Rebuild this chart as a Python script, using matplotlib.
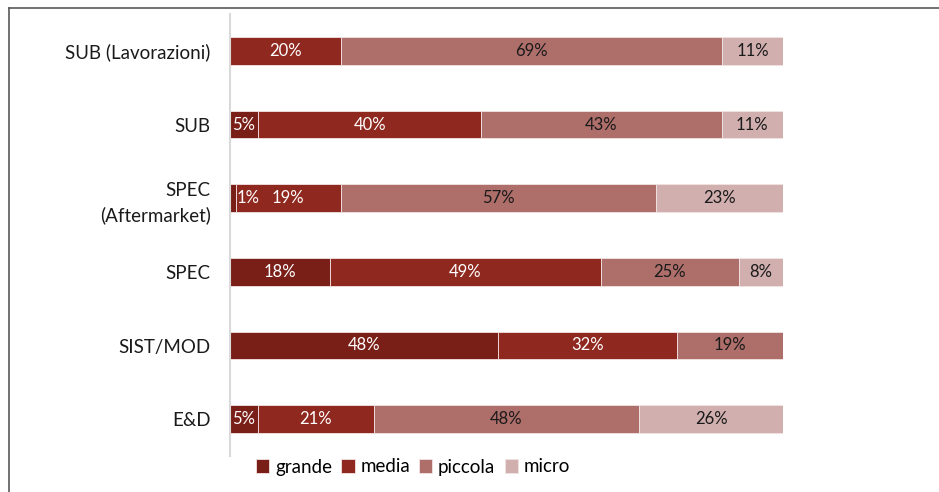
import matplotlib.pyplot as plt
from matplotlib.lines import Line2D
import numpy as np

plt.rcParams['font.family'] = ['Lato', 'DejaVu Sans']

# categories, top to bottom
categories = ['SUB (Lavorazioni)', 'SUB', 'SPEC\n(Aftermarket)', 'SPEC', 'SIST/MOD', 'E&D']
series = ['grande', 'media', 'piccola', 'micro']

grande = [0, 5, 1, 18, 48, 5]
media = [20, 40, 19, 49, 32, 21]
piccola = [69, 43, 57, 25, 19, 48]
micro = [11, 11, 23, 8, 0, 26]

colors = ['#7A1F17', '#8F281E', '#AE6E6A', '#D0AFAE']
text_colors = ['white', 'white', '#1a1a1a', '#1a1a1a']

data = np.array([grande, media, piccola, micro], dtype=float)
shares = data / data.sum(axis=0) * 100  # 100% stacked, like Excel

fig = plt.figure(figsize=(9.39, 4.92), dpi=100)
ax = fig.add_axes([230 / 939, 36 / 492, 553 / 939, 442 / 492])

y = np.arange(len(categories))[::-1]
left = np.zeros(len(categories))
for i, name in enumerate(series):
    ax.barh(y, shares[i], left=left, height=0.38, color=colors[i],
            edgecolor='#F2E4E4', linewidth=0.6, label=name)
    for yy, l, w, v in zip(y, left, shares[i], data[i]):
        if v <= 0:
            continue
        if w < 3:
            # too thin: label sits just right of the segment
            ax.text(l + w + 0.2, yy, f'{v:.0f}%', ha='left', va='center',
                    color=text_colors[i], fontsize=12)
        else:
            ax.text(l + w / 2, yy, f'{v:.0f}%', ha='center', va='center',
                    color=text_colors[i], fontsize=12)
    left += shares[i]

ax.set_xlim(0, 100)
ax.set_ylim(-0.5, len(categories) - 0.5)
ax.set_yticks(y)
ax.set_yticklabels(categories, fontsize=13.5, color='#1a1a1a', linespacing=1.45)
ax.set_xticks([])
ax.tick_params(axis='y', length=0, pad=14)
for s in ['top', 'right', 'bottom']:
    ax.spines[s].set_visible(False)
ax.spines['left'].set_color('#D9D9D9')
ax.spines['left'].set_linewidth(1.5)

handles, labels = ax.get_legend_handles_labels()
fig.legend(handles, labels, loc='center', bbox_to_anchor=(413 / 939, 1 - 467 / 492),
           ncol=4, frameon=False, fontsize=13.5, handlelength=0.7, handleheight=0.7,
           handletextpad=0.3, columnspacing=0.5)

# outer frame of the original picture (top and left edges visible)
fig.add_artist(Line2D([9 / 939, 9 / 939], [0, 1 - 8 / 492], transform=fig.transFigure,
                      color='#595959', linewidth=1.2))
fig.add_artist(Line2D([9 / 939, 1], [1 - 8 / 492, 1 - 8 / 492], transform=fig.transFigure,
                      color='#595959', linewidth=1.2))

fig.savefig('out.png', dpi=100)
